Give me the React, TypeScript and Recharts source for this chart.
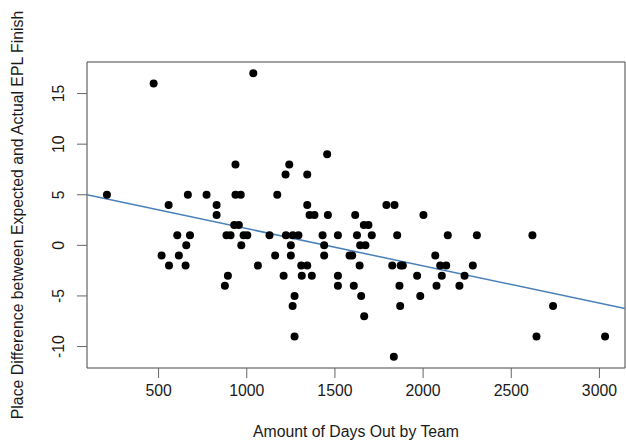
import React from 'react';
import {
  ScatterChart,
  Scatter,
  XAxis,
  YAxis,
  ReferenceLine,
  ReferenceArea,
  Label,
} from 'recharts';

// days out (x) and place difference (y), one entry per team-season
const daysOut = [
  1037, 472, 1456, 936, 1241, 1220, 1343,
  207, 666, 772, 936, 966, 1173,
  557, 829, 1343, 1792, 1838,
  829, 1356, 1384, 1460, 1615, 2002,
  929, 955, 1664, 1690,
  606, 678, 885, 908, 982, 1003, 1129, 1222, 1261, 1293, 1430, 1517, 1625, 1709, 1853, 2140, 2305, 2620,
  657, 969, 1250, 1439, 1643, 1673,
  517, 615, 1161, 1250, 1439, 1583, 1598, 2069,
  559, 653, 1063, 1309, 1343, 1640, 1825, 1873, 1885, 2097, 2131, 2282,
  893, 1209, 1312, 1369, 1517, 1966, 2106, 2235,
  876, 1517, 1607, 1866, 2076, 2206,
  1271, 1649, 1984,
  1260, 1870, 2737,
  1666,
  1271, 2643, 3032,
  1834,
];

const placeDiff = [
  17, 16, 9, 8, 8, 7, 7,
  5, 5, 5, 5, 5, 5,
  4, 4, 4, 4, 4,
  3, 3, 3, 3, 3, 3,
  2, 2, 2, 2,
  1, 1, 1, 1, 1, 1, 1, 1, 1, 1, 1, 1, 1, 1, 1, 1, 1, 1,
  0, 0, 0, 0, 0, 0,
  -1, -1, -1, -1, -1, -1, -1, -1,
  -2, -2, -2, -2, -2, -2, -2, -2, -2, -2, -2, -2,
  -3, -3, -3, -3, -3, -3, -3, -3,
  -4, -4, -4, -4, -4, -4,
  -5, -5, -5,
  -6, -6, -6,
  -7,
  -9, -9, -9,
  -11,
];

const xTicks = [500, 1000, 1500, 2000, 2500, 3000];
const yTicks = [-10, -5, 0, 5, 10, 15];

// fitted line (lm) coefficients
const fitIntercept = 5.34;
const fitSlope = -0.003685;

const X_MIN = 94;
const X_MAX = 3145;
const Y_MIN = -12.12;
const Y_MAX = 18.12;

const data = daysOut.map((d, i) => ({ days: d, diff: placeDiff[i] }));
const fit = (x: number) => fitIntercept + fitSlope * x;

const FONT = '"Liberation Sans", Arial, sans-serif';
const FS = 15.8;
const TEXT = '#1a1a1a';

function Dot(props: any) {
  return <circle cx={props.cx} cy={props.cy} r={4} fill="#000" />;
}

function YTick(props: any) {
  const { x, y, payload } = props;
  return (
    <text
      x={x}
      y={y}
      transform={`rotate(-90, ${x}, ${y})`}
      textAnchor="middle"
      fontFamily={FONT}
      fontSize={FS}
      fill={TEXT}
    >
      {payload.value}
    </text>
  );
}

function YTitle(props: any) {
  const vb = props.viewBox;
  const cx = 17;
  const cy = vb.y + vb.height / 2;
  return (
    <text
      x={cx}
      y={cy}
      transform={`rotate(-90, ${cx}, ${cy})`}
      textAnchor="middle"
      dominantBaseline="central"
      fontFamily={FONT}
      fontSize={FS}
      fill={TEXT}
    >
      Place Difference between Expected and Actual EPL Finish
    </text>
  );
}

export default function App() {
  return (
    <div style={{ position: 'absolute', left: 0, top: 0, background: '#fff' }}>
      <ScatterChart
        width={626}
        height={441}
        margin={{ top: 62, right: 1, left: 0, bottom: 0 }}
      >
        <XAxis
          type="number"
          dataKey="days"
          domain={[X_MIN, X_MAX]}
          ticks={xTicks}
          allowDataOverflow
          height={73}
          axisLine={false}
          tickSize={10}
          tickMargin={7}
          tickLine={{ stroke: '#666' }}
          tick={{ fill: TEXT, fontFamily: FONT, fontSize: FS }}
        >
          <Label
            value="Amount of Days Out by Team"
            position="insideBottom"
            offset={4}
            style={{ fill: TEXT, fontFamily: FONT, fontSize: FS }}
          />
        </XAxis>
        <YAxis
          type="number"
          dataKey="diff"
          domain={[Y_MIN, Y_MAX]}
          ticks={yTicks}
          allowDataOverflow
          width={87}
          axisLine={false}
          tickSize={10}
          tickMargin={13}
          tickLine={{ stroke: '#666' }}
          tick={<YTick />}
        >
          <Label content={<YTitle />} />
        </YAxis>
        <ReferenceArea
          x1={X_MIN}
          x2={X_MAX}
          y1={Y_MIN}
          y2={Y_MAX}
          fill="none"
          stroke="#444"
          strokeWidth={1}
          ifOverflow="visible"
        />
        <Scatter data={data} shape={<Dot />} isAnimationActive={false} />
        <ReferenceLine
          segment={[
            { x: X_MIN, y: fit(X_MIN) },
            { x: X_MAX, y: fit(X_MAX) },
          ]}
          stroke="#4a80b8"
          strokeWidth={1.5}
          ifOverflow="visible"
        />
      </ScatterChart>
    </div>
  );
}
